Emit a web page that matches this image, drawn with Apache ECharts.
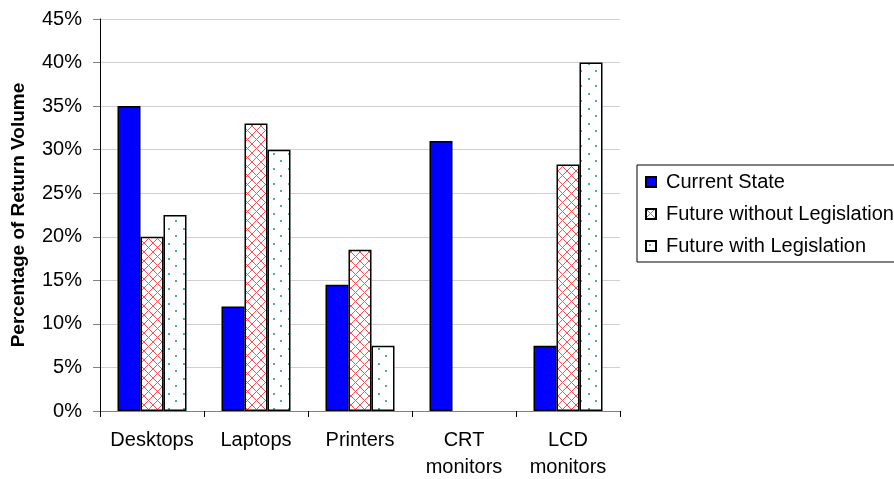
<!DOCTYPE html>
<html>
<head>
<meta charset="utf-8">
<script src="https://cdn.jsdelivr.net/npm/echarts@6/dist/echarts.min.js"></script>
<style>
  html, body { margin: 0; padding: 0; background: #fff; }
  #chart { width: 894px; height: 479px; }
</style>
</head>
<body>
<div id="chart"></div>
<script>
const categories = ['Desktops', 'Laptops', 'Printers', 'CRT\nmonitors', 'LCD\nmonitors']
const currentState = [35, 12, 14.5, 31, 7.5]
const futureWithout = [20, 33, 18.5, 0, 28.3]
const futureWith = [22.5, 30, 7.5, 0, 40]
const yTicks = [0, 5, 10, 15, 20, 25, 30, 35, 40, 45]

function crossHatch() {
  const c = document.createElement('canvas')
  c.width = 9
  c.height = 9
  const ctx = c.getContext('2d')
  ctx.fillStyle = '#fff'
  ctx.fillRect(0, 0, 9, 9)
  ctx.strokeStyle = '#ff5050'
  ctx.lineWidth = 1
  ctx.beginPath()
  ctx.moveTo(0, 0); ctx.lineTo(9, 9)
  ctx.moveTo(9, 0); ctx.lineTo(0, 9)
  ctx.stroke()
  return c
}

function dots() {
  const c = document.createElement('canvas')
  c.width = 15
  c.height = 15
  const ctx = c.getContext('2d')
  ctx.fillStyle = '#fff'
  ctx.fillRect(0, 0, 15, 15)
  ctx.fillStyle = '#4fb08a'
  ctx.fillRect(3, 3, 2, 2)
  ctx.fillRect(10, 10, 2, 2)
  return c
}

// zero-height bars are not drawn in the original
const noZero = (arr) => arr.map(v => (v === 0 ? '-' : v))

const chart = echarts.init(document.getElementById('chart'))
const font = 'Liberation Sans, Arial, sans-serif'

const barStyle = (color) => ({
  color: color,
  borderColor: '#000',
  borderWidth: 1.5
})

chart.setOption({
  animation: false,
  textStyle: { fontFamily: font },
  grid: { left: 100, right: 274, top: 19, bottom: 68, outerBoundsMode: 'none' },
  legend: {
    orient: 'vertical',
    left: 637,
    top: 165,
    padding: [7, 20, 6, 8],
    icon: 'rect',
    itemWidth: 10,
    itemHeight: 10,
    itemGap: 12,
    borderColor: '#000',
    borderWidth: 1,
    textStyle: { fontSize: 20, color: '#000', fontFamily: font, padding: [0, 0, 0, 5] },
    data: ['Current State', 'Future without Legislation', 'Future with Legislation']
  },
  xAxis: {
    type: 'category',
    data: categories,
    axisLine: { lineStyle: { color: '#808080', width: 1 } },
    axisTick: { show: true, length: 6, interval: 0, lineStyle: { color: '#000' } },
    axisLabel: {
      color: '#000',
      fontSize: 20,
      margin: 16,
      lineHeight: 27,
      interval: 0,
      hideOverlap: false,
      fontFamily: font
    }
  },
  yAxis: {
    type: 'value',
    min: 0,
    max: 45,
    interval: 5,
    name: 'Percentage of Return Volume',
    nameLocation: 'middle',
    nameGap: 72,
    nameTextStyle: { fontSize: 19, fontWeight: 'bold', color: '#000', fontFamily: font },
    axisLine: { show: true, lineStyle: { color: '#000', width: 1 } },
    axisTick: { show: true, length: 7, lineStyle: { color: '#808080' } },
    axisLabel: {
      color: '#000',
      fontSize: 20,
      margin: 18,
      fontFamily: font,
      formatter: (v) => (yTicks.includes(v) ? v + '%' : '')
    },
    splitLine: { lineStyle: { color: '#d0d0d0', width: 1 } }
  },
  series: [
    {
      name: 'Current State',
      type: 'bar',
      data: noZero(currentState),
      barWidth: 23,
      barGap: '0%',
      itemStyle: barStyle('#0000ff')
    },
    {
      name: 'Future without Legislation',
      type: 'bar',
      data: noZero(futureWithout),
      barWidth: 23,
      barGap: '0%',
      itemStyle: barStyle({ image: crossHatch(), repeat: 'repeat' })
    },
    {
      name: 'Future with Legislation',
      type: 'bar',
      data: noZero(futureWith),
      barWidth: 23,
      barGap: '0%',
      itemStyle: barStyle({ image: dots(), repeat: 'repeat' })
    }
  ]
})
</script>
</body>
</html>
